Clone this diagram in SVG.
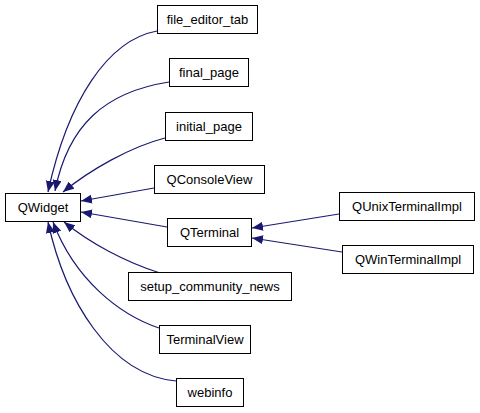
<svg xmlns="http://www.w3.org/2000/svg" width="480" height="413" viewBox="0 0 480 413">
<style>
.node rect{fill:#ffffff;stroke:#000000;stroke-width:1}
.node text{font-family:"Liberation Sans",Arial,sans-serif;font-size:13px;fill:#000000;text-anchor:middle}
.edges path{fill:none;stroke:#191970;stroke-width:1.2}
</style>
<defs>
<marker id="ah" viewBox="0 0 11 9" refX="11" refY="4.5" markerWidth="11" markerHeight="9" markerUnits="userSpaceOnUse" orient="auto">
<path d="M0,0 L11,4.5 L0,9 z" fill="#191970"/>
</marker>
</defs>
<rect width="480" height="413" fill="#ffffff"/>
<g class="edges">
<path d="M157,31 C108,40 68,100 48,192" marker-end="url(#ah)"/>
<path d="M169,82 C105,92 68,125 55,191" marker-end="url(#ah)"/>
<path d="M165,138 C130,147 90,170 63,192" marker-end="url(#ah)"/>
<path d="M154,188 L81,201" marker-end="url(#ah)"/>
<path d="M167,227 L81,212" marker-end="url(#ah)"/>
<path d="M160,273 C125,262 90,243 64,222" marker-end="url(#ah)"/>
<path d="M159,328 C120,315 75,280 53,222" marker-end="url(#ah)"/>
<path d="M176,381 C110,375 65,300 48,222" marker-end="url(#ah)"/>
<path d="M339,214 L252,228" marker-end="url(#ah)"/>
<path d="M342,252 L252,238" marker-end="url(#ah)"/>
</g>
<g id="QWidget" class="node"><rect x="5.5" y="193.5" width="75" height="28"/><text x="43" y="212">QWidget</text></g>
<g id="file_editor_tab" class="node"><rect x="157.5" y="5.5" width="100" height="28"/><text x="207.5" y="24">file_editor_tab</text></g>
<g id="final_page" class="node"><rect x="169.5" y="58.5" width="79" height="28"/><text x="209" y="77">final_page</text></g>
<g id="initial_page" class="node"><rect x="165.5" y="112.5" width="87" height="28"/><text x="209" y="131">initial_page</text></g>
<g id="QConsoleView" class="node"><rect x="154.5" y="165.5" width="110" height="28"/><text x="209.5" y="184">QConsoleView</text></g>
<g id="QTerminal" class="node"><rect x="167.5" y="218.5" width="84" height="28"/><text x="209.5" y="237">QTerminal</text></g>
<g id="setup_community_news" class="node"><rect x="128.5" y="272.5" width="163" height="28"/><text x="210" y="291">setup_community_news</text></g>
<g id="TerminalView" class="node"><rect x="159.5" y="325.5" width="91" height="28"/><text x="205" y="344">TerminalView</text></g>
<g id="webinfo" class="node"><rect x="176.5" y="378.5" width="67" height="28"/><text x="210" y="397">webinfo</text></g>
<g id="QUnixTerminalImpl" class="node"><rect x="339.5" y="192.5" width="135" height="28"/><text x="407" y="211">QUnixTerminalImpl</text></g>
<g id="QWinTerminalImpl" class="node"><rect x="342.5" y="245.5" width="131" height="28"/><text x="408" y="264">QWinTerminalImpl</text></g>
</svg>
